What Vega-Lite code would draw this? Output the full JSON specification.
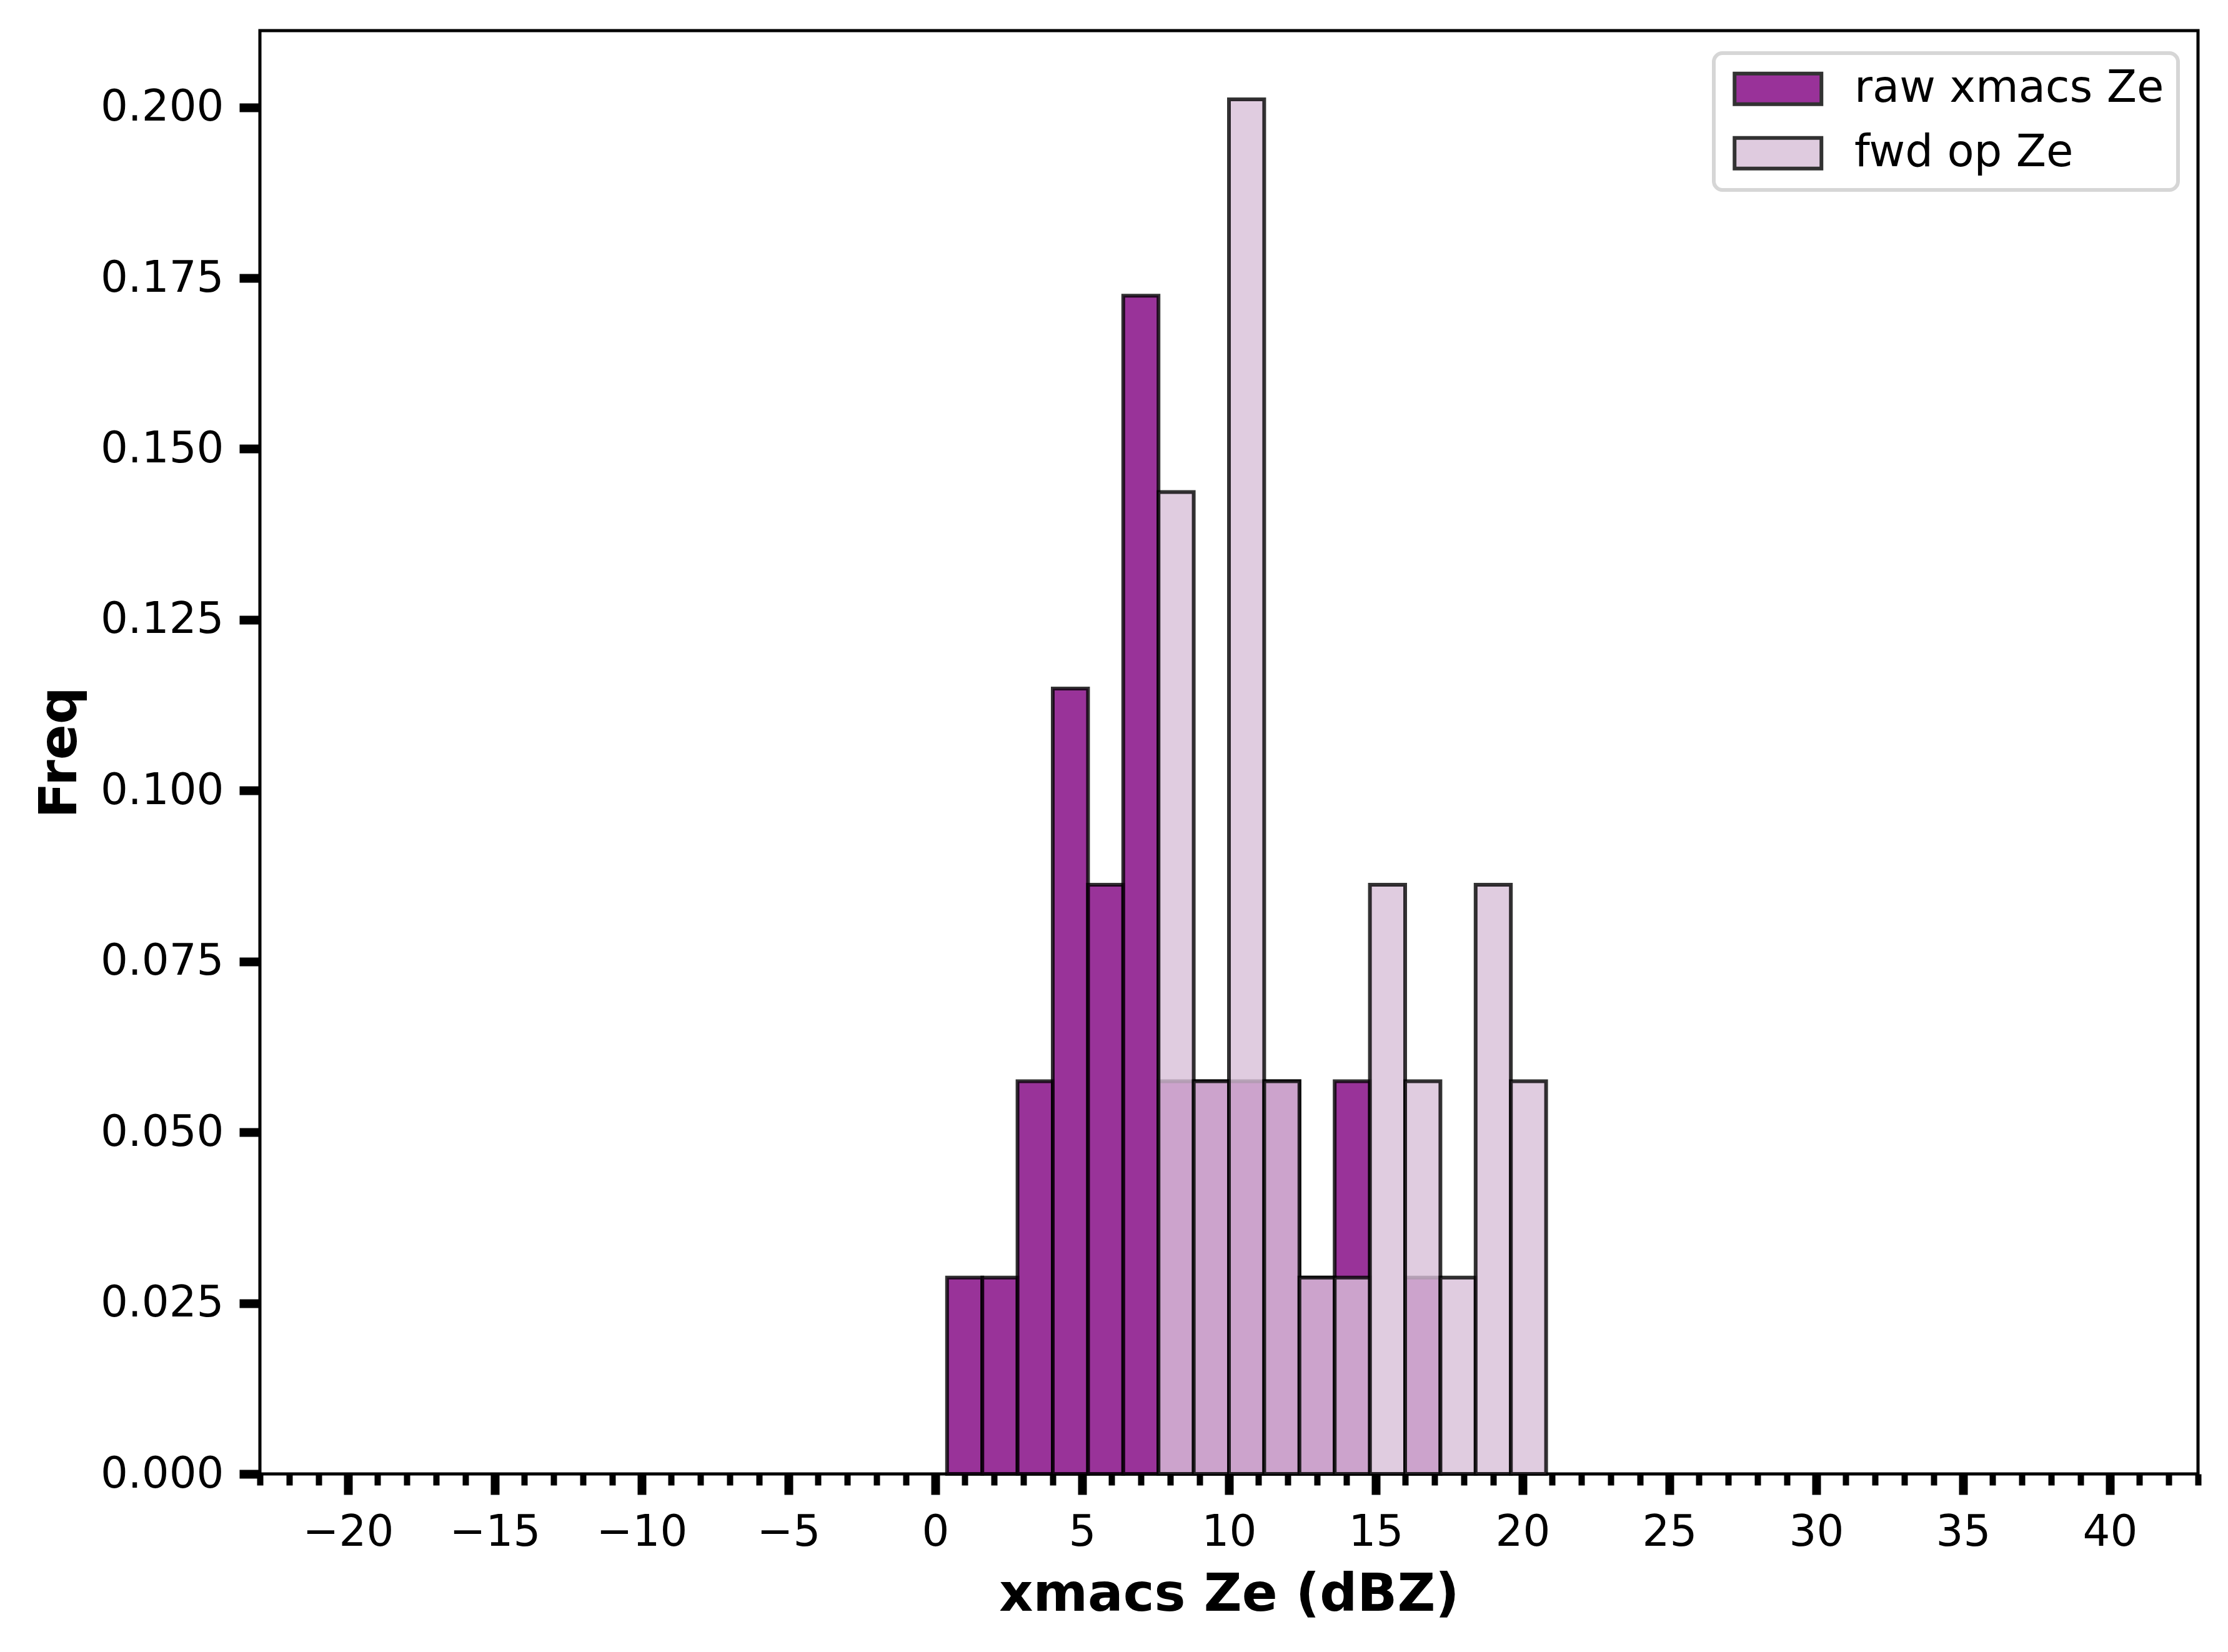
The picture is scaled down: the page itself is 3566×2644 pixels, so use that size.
{
  "$schema": "https://vega.github.io/schema/vega-lite/v6.json",
  "width": 3102,
  "height": 2310,
  "autosize": {"type": "none"},
  "padding": {"left": 416, "top": 49, "right": 48, "bottom": 285},
  "background": "white",
  "data": {
    "values": [
      {"series": "raw xmacs Ze", "bin_start": 0.4, "bin_end": 1.6, "freq": 0.02874},
      {"series": "raw xmacs Ze", "bin_start": 1.6, "bin_end": 2.8, "freq": 0.02874},
      {"series": "raw xmacs Ze", "bin_start": 2.8, "bin_end": 4.0, "freq": 0.05747},
      {"series": "raw xmacs Ze", "bin_start": 4.0, "bin_end": 5.2, "freq": 0.11494},
      {"series": "raw xmacs Ze", "bin_start": 5.2, "bin_end": 6.4, "freq": 0.08621},
      {"series": "raw xmacs Ze", "bin_start": 6.4, "bin_end": 7.6, "freq": 0.17241},
      {"series": "raw xmacs Ze", "bin_start": 7.6, "bin_end": 8.8, "freq": 0.05747},
      {"series": "raw xmacs Ze", "bin_start": 8.8, "bin_end": 10.0, "freq": 0.05747},
      {"series": "raw xmacs Ze", "bin_start": 10.0, "bin_end": 11.2, "freq": 0.05747},
      {"series": "raw xmacs Ze", "bin_start": 11.2, "bin_end": 12.4, "freq": 0.05747},
      {"series": "raw xmacs Ze", "bin_start": 12.4, "bin_end": 13.6, "freq": 0.02874},
      {"series": "raw xmacs Ze", "bin_start": 13.6, "bin_end": 14.8, "freq": 0.05747},
      {"series": "raw xmacs Ze", "bin_start": 16.0, "bin_end": 17.2, "freq": 0.02874},
      {"series": "fwd op Ze", "bin_start": 7.6, "bin_end": 8.8, "freq": 0.14368},
      {"series": "fwd op Ze", "bin_start": 8.8, "bin_end": 10.0, "freq": 0.05747},
      {"series": "fwd op Ze", "bin_start": 10.0, "bin_end": 11.2, "freq": 0.20115},
      {"series": "fwd op Ze", "bin_start": 11.2, "bin_end": 12.4, "freq": 0.05747},
      {"series": "fwd op Ze", "bin_start": 12.4, "bin_end": 13.6, "freq": 0.02874},
      {"series": "fwd op Ze", "bin_start": 13.6, "bin_end": 14.8, "freq": 0.02874},
      {"series": "fwd op Ze", "bin_start": 14.8, "bin_end": 16.0, "freq": 0.08621},
      {"series": "fwd op Ze", "bin_start": 16.0, "bin_end": 17.2, "freq": 0.05747},
      {"series": "fwd op Ze", "bin_start": 17.2, "bin_end": 18.4, "freq": 0.02874},
      {"series": "fwd op Ze", "bin_start": 18.4, "bin_end": 19.6, "freq": 0.08621},
      {"series": "fwd op Ze", "bin_start": 19.6, "bin_end": 20.8, "freq": 0.05747}
    ]
  },
  "layer": [
    {
      "transform": [{"filter": "datum.series == 'raw xmacs Ze'"}],
      "mark": {"type": "rect", "fillOpacity": 0.8, "stroke": "black", "strokeOpacity": 0.8, "strokeWidth": 6},
      "encoding": {
        "x": {
          "field": "bin_start",
          "type": "quantitative",
          "scale": {"domain": [-23, 43], "nice": false, "zero": false},
          "axis": {
            "orient": "bottom",
            "values": [-20, -15, -10, -5, 0, 5, 10, 15, 20, 25, 30, 35, 40],
            "format": "d",
            "tickSize": 33,
            "tickWidth": 14,
            "labelPadding": 26,
            "title": "xmacs Ze (dBZ)",
            "titleY": 218,
            "titleBaseline": "alphabetic"
          }
        },
        "x2": {"field": "bin_end"},
        "y": {
          "field": "freq",
          "type": "quantitative",
          "scale": {"domain": [0, 0.21121], "nice": false},
          "axis": {
            "values": [0, 0.025, 0.05, 0.075, 0.1, 0.125, 0.15, 0.175, 0.2],
            "format": ".3f",
            "tickSize": 33,
            "tickWidth": 14,
            "labelPadding": 25,
            "title": "Freq",
            "titleX": -295,
            "titleBaseline": "alphabetic"
          }
        },
        "y2": {"datum": 0},
        "color": {
          "field": "series",
          "type": "nominal",
          "scale": {"domain": ["raw xmacs Ze", "fwd op Ze"], "range": ["#800080", "#D8BFD8"]},
          "legend": {
            "title": null,
            "orient": "none",
            "legendX": 2327,
            "legendY": 36,
            "padding": 22,
            "symbolType": "M-2.78,-0.98H2.78V0.98H-2.78Z",
            "symbolSize": 2500,
            "symbolStrokeColor": "black",
            "symbolStrokeWidth": 6,
            "symbolOpacity": 0.8,
            "symbolOffset": 45.5,
            "labelFontSize": 70.5,
            "labelOffset": 87,
            "labelLimit": 0,
            "rowPadding": 29,
            "labelColor": "black"
          }
        }
      }
    },
    {
      "transform": [{"filter": "datum.series == 'fwd op Ze'"}],
      "mark": {"type": "rect", "fillOpacity": 0.8, "stroke": "black", "strokeOpacity": 0.8, "strokeWidth": 6},
      "encoding": {
        "x": {
          "field": "bin_start",
          "type": "quantitative",
          "axis": {
            "orient": "bottom",
            "values": [-23, -22, -21, -19, -18, -17, -16, -14, -13, -12, -11, -9, -8, -7, -6, -4, -3, -2, -1, 1, 2, 3, 4, 6, 7, 8, 9, 11, 12, 13, 14, 16, 17, 18, 19, 21, 22, 23, 24, 26, 27, 28, 29, 31, 32, 33, 34, 36, 37, 38, 39, 41, 42, 43],
            "tickSize": 18,
            "tickWidth": 10,
            "labels": false,
            "title": null
          }
        },
        "x2": {"field": "bin_end"},
        "y": {"field": "freq", "type": "quantitative"},
        "y2": {"datum": 0},
        "color": {"field": "series", "type": "nominal"}
      }
    }
  ],
  "resolve": {"axis": {"x": "independent"}},
  "config": {
    "font": "DejaVu Sans",
    "view": {"stroke": "black", "strokeWidth": 5},
    "legend": {
      "fillColor": "white",
      "strokeColor": "#d6d6d6",
      "strokeWidth": 6,
      "cornerRadius": 14,
      "labelLimit": 0
    },
    "axis": {
      "domain": false,
      "grid": false,
      "tickColor": "black",
      "labelColor": "black",
      "labelFontSize": 69,
      "labelFont": "DejaVu Sans",
      "labelLimit": 0,
      "labelFlush": false,
      "labelOverlap": false,
      "titleColor": "black",
      "titleFont": "DejaVu Sans",
      "titleFontSize": 84,
      "titleFontWeight": "bold"
    }
  }
}
